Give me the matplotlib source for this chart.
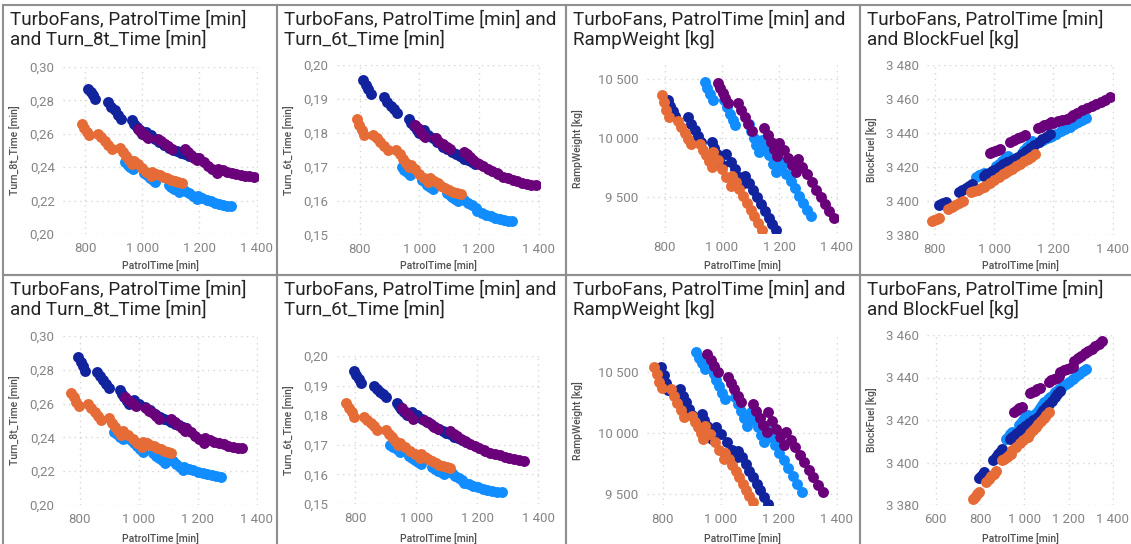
import matplotlib
matplotlib.use("Agg")
import matplotlib.pyplot as plt
from matplotlib.patches import Rectangle

# ---- data: top row (one list per series and measure) ----
top_orange_patrol = [790, 798, 806, 814, 845, 857, 869, 881, 893, 922, 933, 944, 955, 966, 970, 985, 1000, 1015, 1030,
                     1035, 1048, 1061, 1074, 1087, 1100, 1113, 1126, 1139]
top_orange_turn8 = [.2660, .2637, .2613, .2590, .2600, .2578, .2555, .2532, .2510, .2515, .2490, .2467, .2443, .2420,
                    .2440, .2418, .2395, .2372, .2350, .2370, .2360, .2351, .2342, .2334, .2326, .2319, .2313, .2307]
top_orange_turn6 = [.1840, .1825, .1810, .1795, .1795, .1784, .1773, .1762, .1751, .1750, .1737, .1725, .1712, .1700,
                    .1705, .1693, .1680, .1668, .1656, .1668, .1660, .1652, .1645, .1638, .1632, .1627, .1623, .1620]
top_orange_ramp = [10365, 10305, 10240, 10180, 10140, 10090, 10040, 9990, 9945, 9945, 9898, 9850, 9800, 9752,
                   9878, 9808, 9736, 9664, 9593, 9677, 9620, 9563, 9505, 9447, 9390, 9332, 9274, 9216]
top_orange_fuel = [3388.0, 3388.7, 3389.4, 3390.0, 3395.2, 3396.4, 3397.6, 3398.8, 3400.0, 3405.0, 3405.8, 3406.6,
                   3407.4, 3408.2, 3409.0, 3410.8, 3412.5, 3414.2, 3416.0, 3416.3, 3417.7, 3419.1, 3420.5, 3421.9,
                   3423.3, 3424.7, 3426.1, 3427.5]

top_navy_patrol = [812, 820, 828, 836, 880, 892, 904, 916, 926, 964, 973, 982, 991, 1000, 1015, 1030, 1045, 1060, 1075,
                   1080, 1094, 1108, 1122, 1136, 1150, 1163, 1176, 1188]
top_navy_turn8 = [.2870, .2850, .2830, .2810, .2790, .2760, .2740, .2710, .2690, .2680, .2660, .2640, .2620, .2600,
                  .2610, .2590, .2570, .2550, .2535, .2530, .2515, .2505, .2495, .2485, .2478, .2470, .2462, .2455]
top_navy_turn6 = [.1955, .1940, .1930, .1915, .1905, .1890, .1880, .1870, .1860, .1840, .1830, .1820, .1810, .1800,
                  .1810, .1795, .1785, .1775, .1765, .1760, .1752, .1745, .1738, .1731, .1725, .1720, .1715, .1710]
top_navy_ramp = [10320, 10270, 10225, 10185, 10180, 10120, 10070, 10015, 9968, 9965, 9910, 9860, 9810, 9765,
                 9860, 9795, 9735, 9670, 9612, 9675, 9615, 9555, 9495, 9435, 9375, 9320, 9265, 9212]
top_navy_fuel = [3397.8, 3398.3, 3398.8, 3399.4, 3405.2, 3406.5, 3407.8, 3409.0, 3410.2, 3414.8, 3415.8, 3416.7,
                 3417.5, 3418.3, 3420.2, 3421.5, 3422.8, 3424.0, 3425.2, 3426.0, 3427.8, 3429.5, 3431.2, 3432.9,
                 3434.6, 3436.2, 3437.8, 3439.2]

top_light_patrol = [940, 949, 958, 967, 1007, 1017, 1027, 1037, 1046, 1093, 1102, 1111, 1120, 1128, 1138, 1151, 1164,
                    1177, 1190, 1195, 1210, 1225, 1240, 1255, 1270, 1284, 1297, 1310]
top_light_turn8 = [.2430, .2415, .2400, .2387, .2368, .2352, .2337, .2322, .2310, .2295, .2283, .2272, .2261, .2251,
                   .2278, .2260, .2243, .2227, .2212, .2228, .2215, .2204, .2195, .2187, .2180, .2174, .2170, .2166]
top_light_turn6 = [.1700, .1692, .1684, .1677, .1662, .1655, .1648, .1641, .1636, .1625, .1618, .1612, .1606, .1601,
                   .1612, .1603, .1595, .1587, .1580, .1572, .1565, .1560, .1555, .1551, .1547, .1544, .1542, .1540]
top_light_ramp = [10475, 10425, 10375, 10325, 10325, 10265, 10205, 10150, 10110, 10115, 10055, 9995, 9935, 9882,
                  9985, 9915, 9850, 9780, 9712, 9820, 9757, 9695, 9632, 9570, 9507, 9447, 9390, 9335]
top_light_fuel = [3414.2, 3415.0, 3415.8, 3416.6, 3420.5, 3422.0, 3423.5, 3425.0, 3426.3, 3428.5, 3430.2, 3432.0,
                  3433.8, 3435.5, 3433.5, 3434.6, 3435.7, 3436.8, 3437.9, 3438.0, 3439.5, 3441.0, 3442.4, 3443.8,
                  3445.2, 3446.5, 3447.7, 3448.9]

top_purple_patrol = [985, 994, 1003, 1012, 1020, 1055, 1067, 1079, 1091, 1103, 1148, 1159, 1170, 1181, 1192, 1200, 1215,
                     1230, 1245, 1260, 1265, 1281, 1297, 1313, 1329, 1345, 1360, 1375, 1390]
top_purple_turn8 = [.2630, .2615, .2600, .2585, .2572, .2570, .2555, .2540, .2525, .2510, .2510, .2492, .2475, .2458,
                    .2442, .2455, .2432, .2410, .2388, .2368, .2392, .2382, .2373, .2366, .2359, .2354, .2350, .2347,
                    .2344]
top_purple_turn6 = [.1825, .1815, .1805, .1795, .1787, .1785, .1775, .1767, .1760, .1752, .1745, .1737, .1728, .1720,
                    .1712, .1710, .1702, .1695, .1688, .1681, .1678, .1672, .1667, .1662, .1658, .1654, .1651, .1648,
                    .1646]
top_purple_ramp = [10470, 10425, 10380, 10340, 10300, 10300, 10240, 10180, 10120, 10060, 10085, 10025, 9965, 9905,
                   9848, 9960, 9895, 9830, 9770, 9710, 9820, 9755, 9690, 9625, 9560, 9495, 9435, 9375, 9320]
top_purple_fuel = [3428.2, 3428.8, 3429.4, 3430.0, 3430.5, 3434.8, 3435.8, 3436.8, 3437.8, 3438.8, 3443.0, 3443.8,
                   3444.6, 3445.4, 3446.2, 3446.0, 3446.8, 3447.6, 3448.4, 3449.2, 3450.8, 3452.0, 3453.3, 3454.6,
                   3455.9, 3457.2, 3458.5, 3459.7, 3460.9]

# ---- data: bottom row ----
bot_orange_patrol = [770, 779, 788, 797, 828, 839, 850, 861, 872, 900, 910, 920, 930, 940, 945, 962, 979, 995, 1012,
                     1015, 1027, 1039, 1051, 1063, 1075, 1087, 1099, 1111]
bot_orange_turn8 = [.2665, .2638, .2612, .2585, .2600, .2576, .2552, .2528, .2505, .2512, .2488, .2464, .2440, .2416,
                    .2435, .2413, .2390, .2368, .2346, .2375, .2365, .2356, .2347, .2338, .2330, .2322, .2314, .2306]
bot_orange_turn6 = [.1840, .1825, .1810, .1795, .1795, .1784, .1773, .1762, .1751, .1750, .1737, .1725, .1712, .1700,
                    .1705, .1693, .1680, .1668, .1656, .1668, .1660, .1652, .1645, .1639, .1633, .1628, .1624, .1620]
bot_orange_ramp = [10540, 10480, 10420, 10365, 10360, 10305, 10248, 10190, 10135, 10140, 10094, 10048, 10000, 9955,
                   10060, 9992, 9925, 9858, 9790, 9840, 9789, 9738, 9687, 9636, 9585, 9534, 9483, 9432]
bot_orange_fuel = [3383.0, 3384.0, 3385.0, 3386.0, 3391.0, 3392.3, 3393.6, 3394.8, 3396.0, 3401.0, 3401.8, 3402.5,
                   3403.3, 3404.0, 3406.0, 3407.5, 3409.0, 3410.5, 3412.0, 3412.2, 3413.7, 3415.2, 3416.7, 3418.2,
                   3419.6, 3421.0, 3422.4, 3423.8]

bot_navy_patrol = [795, 803, 811, 819, 860, 870, 880, 890, 900, 935, 943, 951, 960, 968, 985, 1002, 1020, 1037, 1055,
                   1060, 1073, 1086, 1098, 1111, 1124, 1137, 1149, 1162]
bot_navy_turn8 = [.2876, .2848, .2820, .2792, .2787, .2763, .2738, .2714, .2690, .2680, .2659, .2638, .2616, .2595,
                  .2620, .2600, .2580, .2560, .2540, .2530, .2520, .2510, .2500, .2491, .2482, .2473, .2463, .2453]
bot_navy_turn6 = [.1950, .1937, .1923, .1910, .1900, .1890, .1880, .1870, .1860, .1840, .1830, .1820, .1810, .1800,
                  .1810, .1799, .1788, .1776, .1765, .1760, .1754, .1747, .1741, .1735, .1728, .1722, .1716, .1710]
bot_navy_ramp = [10540, 10475, 10412, 10350, 10360, 10306, 10252, 10198, 10145, 10155, 10105, 10055, 10005, 9955,
                 10050, 9988, 9925, 9862, 9800, 9855, 9800, 9746, 9692, 9638, 9583, 9529, 9474, 9420]
bot_navy_fuel = [3392.5, 3393.6, 3394.7, 3395.7, 3401.0, 3402.4, 3403.8, 3405.1, 3406.5, 3411.0, 3411.8, 3412.5,
                 3413.3, 3414.0, 3416.0, 3417.3, 3418.5, 3419.8, 3421.0, 3421.5, 3423.1, 3424.6, 3426.1, 3427.6,
                 3429.1, 3430.6, 3432.2, 3433.7]

bot_light_patrol = [915, 925, 935, 945, 975, 985, 995, 1005, 1015, 1050, 1060, 1070, 1080, 1090, 1105, 1116, 1128,
                    1139, 1150, 1155, 1171, 1186, 1202, 1218, 1233, 1249, 1264, 1280]
bot_light_turn8 = [.2433, .2419, .2404, .2390, .2384, .2367, .2350, .2332, .2315, .2305, .2291, .2278, .2264, .2250,
                   .2276, .2260, .2243, .2227, .2210, .2226, .2215, .2205, .2196, .2188, .2181, .2175, .2171, .2167]
bot_light_turn6 = [.1700, .1692, .1685, .1677, .1662, .1656, .1649, .1643, .1636, .1625, .1619, .1613, .1607, .1601,
                   .1612, .1604, .1596, .1588, .1580, .1572, .1566, .1561, .1556, .1552, .1548, .1545, .1542, .1540]
bot_light_ramp = [10660, 10615, 10570, 10525, 10485, 10434, 10382, 10331, 10280, 10295, 10236, 10178, 10119, 10060,
                  10170, 10109, 10048, 9986, 9925, 10035, 9970, 9905, 9840, 9775, 9710, 9645, 9580, 9515]
bot_light_fuel = [3411.0, 3412.2, 3413.3, 3414.5, 3417.5, 3418.8, 3420.0, 3421.3, 3422.5, 3423.0, 3424.4, 3425.8,
                  3427.1, 3428.5, 3430.0, 3431.0, 3432.0, 3433.0, 3434.0, 3434.5, 3435.7, 3436.9, 3438.1, 3439.3,
                  3440.5, 3441.7, 3442.9, 3444.0]

bot_purple_patrol = [952, 965, 977, 990, 1024, 1036, 1047, 1059, 1070, 1110, 1122, 1134, 1146, 1158, 1162, 1177, 1191,
                     1206, 1220, 1225, 1241, 1257, 1273, 1289, 1304, 1320, 1336, 1352]
bot_purple_turn8 = [.2640, .2622, .2603, .2585, .2575, .2559, .2543, .2526, .2510, .2510, .2493, .2475, .2458, .2440,
                    .2455, .2433, .2410, .2388, .2365, .2394, .2384, .2374, .2366, .2358, .2351, .2345, .2340, .2335]
bot_purple_turn6 = [.1825, .1812, .1800, .1787, .1785, .1777, .1769, .1760, .1752, .1745, .1737, .1729, .1720, .1712,
                    .1710, .1703, .1696, .1688, .1681, .1678, .1673, .1668, .1664, .1660, .1656, .1652, .1649, .1646]
bot_purple_ramp = [10650, 10600, 10550, 10500, 10460, 10408, 10357, 10306, 10255, 10240, 10182, 10124, 10066, 10008,
                   10170, 10102, 10035, 9968, 9900, 10005, 9944, 9883, 9821, 9760, 9699, 9638, 9576, 9515]
bot_purple_fuel = [3424.0, 3424.8, 3425.5, 3426.3, 3432.5, 3433.1, 3433.8, 3434.4, 3435.0, 3438.0, 3438.6, 3439.3,
                   3439.9, 3440.5, 3442.7, 3443.3, 3443.9, 3444.4, 3445.0, 3448.0, 3449.1, 3450.3, 3451.4, 3452.5,
                   3453.6, 3454.7, 3455.9, 3457.0]

LIGHT, NAVY, ORANGE, PURPLE = "#118DFF", "#12239E", "#E66C37", "#6B007B"

W, H = 1131, 544
plt.rcParams["font.family"] = ["Roboto", "DejaVu Sans"]
fig = plt.figure(figsize=(W / 100, H / 100), dpi=100)


def fx(px):
    return px / W


def fy(py):
    return 1 - py / H


def fmt_dec(v, _=None):
    return f"{v:.2f}".replace(".", ",")


def fmt_int(v, _=None):
    return f"{v:,.0f}".replace(",", " ")


def panel(frame, area, title, ylabel, series, xlim, xticks, ylim, yticks, yfmt):
    fx0, fy0, fx1, fy1 = frame
    fig.patches.append(Rectangle((fx(fx0), fy(fy1)), fx(fx1 - fx0), (fy1 - fy0) / H,
                                 transform=fig.transFigure, fill=False, edgecolor="#8f8f8f", lw=1.5))
    fig.text(fx(fx0 + 7), fy(fy0 + 5), title, ha="left", va="top", fontsize=13.6, color="#252423",
             linespacing=1.12)
    x0, y0, x1, y1 = area
    ax = fig.add_axes([fx(x0), fy(y1), fx(x1 - x0), (y1 - y0) / H])
    for xs, ys, c in series:
        ax.scatter(xs, ys, s=62, color=c, linewidths=0, zorder=3)
    ax.set_xlim(*xlim)
    ax.set_ylim(*ylim)
    ax.set_xticks(xticks)
    ax.set_yticks(yticks)
    ax.xaxis.set_major_formatter(fmt_int)
    ax.yaxis.set_major_formatter(yfmt)
    ax.tick_params(length=0, labelsize=9.5, labelcolor="#858585", pad=6)
    for s in ax.spines.values():
        s.set_visible(False)
    ax.grid(True, color="#d6d6d6", linestyle=(0, (1, 3)), linewidth=1)
    ax.set_facecolor("none")
    fig.text(fx((x0 + x1) / 2), fy(fy1 - 9), "PatrolTime [min]", ha="center", va="center",
             fontsize=7.5, color="#505050", fontweight="medium")
    fig.text(fx(fx0 + 12), fy((y0 + y1) / 2), ylabel, ha="center", va="center", rotation=90,
             fontsize=7.5, color="#505050", fontweight="medium")
    return ax


rows = [
    dict(orange=(top_orange_patrol, top_orange_turn8, top_orange_turn6, top_orange_ramp, top_orange_fuel),
         navy=(top_navy_patrol, top_navy_turn8, top_navy_turn6, top_navy_ramp, top_navy_fuel),
         light=(top_light_patrol, top_light_turn8, top_light_turn6, top_light_ramp, top_light_fuel),
         purple=(top_purple_patrol, top_purple_turn8, top_purple_turn6, top_purple_ramp, top_purple_fuel)),
    dict(orange=(bot_orange_patrol, bot_orange_turn8, bot_orange_turn6, bot_orange_ramp, bot_orange_fuel),
         navy=(bot_navy_patrol, bot_navy_turn8, bot_navy_turn6, bot_navy_ramp, bot_navy_fuel),
         light=(bot_light_patrol, bot_light_turn8, bot_light_turn6, bot_light_ramp, bot_light_fuel),
         purple=(bot_purple_patrol, bot_purple_turn8, bot_purple_turn6, bot_purple_ramp, bot_purple_fuel)),
]


def series_for(row, k):
    return [(row["light"][0], row["light"][k], LIGHT),
            (row["navy"][0], row["navy"][k], NAVY),
            (row["purple"][0], row["purple"][k], PURPLE),
            (row["orange"][0], row["orange"][k], ORANGE)]


cols = [(3, 277), (277, 566), (566, 860), (860, 1135)]
titles = ["TurboFans, PatrolTime [min]\nand Turn_8t_Time [min]",
          "TurboFans, PatrolTime [min] and\nTurn_6t_Time [min]",
          "TurboFans, PatrolTime [min] and\nRampWeight [kg]",
          "TurboFans, PatrolTime [min]\nand BlockFuel [kg]"]
ylabels = ["Turn_8t_Time [min]", "Turn_6t_Time [min]", "RampWeight [kg]", "BlockFuel [kg]"]
xt = [800, 1000, 1200, 1400]
t8 = [0.20, 0.22, 0.24, 0.26, 0.28, 0.30]
t6 = [0.15, 0.16, 0.17, 0.18, 0.19, 0.20]

# top row
r = rows[0]
panel((cols[0][0], 5, cols[0][1], 275), (63, 67, 258, 234), titles[0], ylabels[0],
      series_for(r, 1), (723, 1405), xt, (0.2, 0.3), t8, fmt_dec)
panel((cols[1][0], 5, cols[1][1], 275), (337, 65, 540, 235), titles[1], ylabels[1],
      series_for(r, 2), (723, 1405), xt, (0.15, 0.20), t6, fmt_dec)
panel((cols[2][0], 5, cols[2][1], 275), (647, 65, 838, 233), titles[2], ylabels[2],
      series_for(r, 3), (738, 1405), xt, (9190, 10620), [9500, 10000, 10500], fmt_int)
panel((cols[3][0], 5, cols[3][1], 275), (927, 65, 1114, 235), titles[3], ylabels[3],
      series_for(r, 4), (773, 1405), xt, (3380, 3480), [3380, 3400, 3420, 3440, 3460, 3480], fmt_int)

# bottom row
r = rows[1]
panel((cols[0][0], 275, cols[0][1], 548), (63, 336, 258, 505), titles[0], ylabels[0],
      series_for(r, 1), (743, 1405), xt, (0.2, 0.3), t8, fmt_dec)
panel((cols[1][0], 275, cols[1][1], 548), (337, 356, 540, 504), titles[1], ylabels[1],
      series_for(r, 2), (740, 1405), xt, (0.15, 0.20), t6, fmt_dec)
panel((cols[2][0], 275, cols[2][1], 548), (647, 337, 838, 505), titles[2], ylabels[2],
      series_for(r, 3), (745, 1405), xt, (9410, 10787), [9500, 10000, 10500], fmt_int)
panel((cols[3][0], 275, cols[3][1], 548), (927, 335, 1114, 505), titles[3], ylabels[3],
      series_for(r, 4), (560, 1405), [600, 800, 1000, 1200, 1400], (3380, 3460),
      [3380, 3400, 3420, 3440, 3460], fmt_int)

fig.savefig("out.png", dpi=100, facecolor="white")
